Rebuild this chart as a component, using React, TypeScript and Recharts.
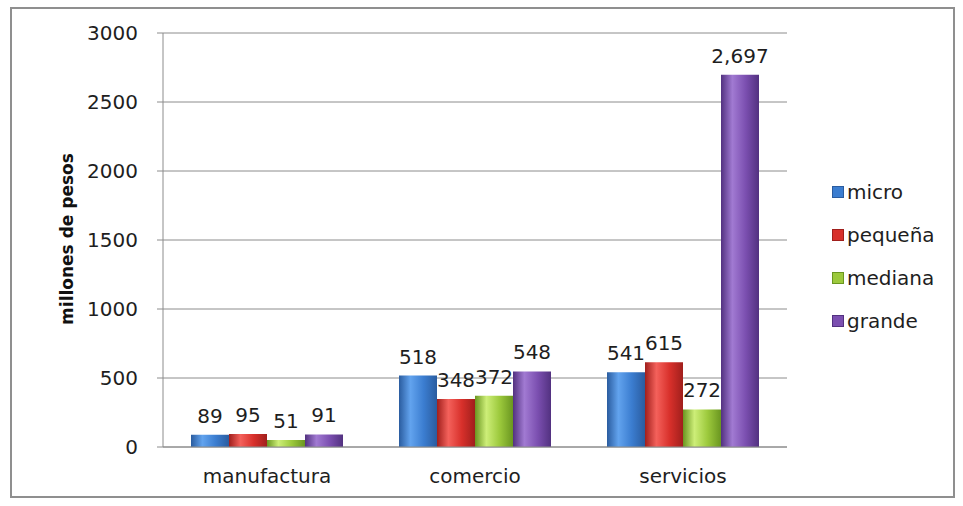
import React from 'react';
import { BarChart, Bar, XAxis, YAxis, CartesianGrid, Legend, LabelList } from 'recharts';

const SECTORS = ['manufactura', 'comercio', 'servicios'];
const MICRO = [89, 518, 541];
const PEQUENA = [95, 348, 615];
const MEDIANA = [51, 372, 272];
const GRANDE = [91, 548, 2697];
const Y_TICKS = [0, 500, 1000, 1500, 2000, 2500, 3000];

const SERIES = [
  { key: 'micro', name: 'micro', values: MICRO, dark: '#2a5c9f', light: '#62a3ee', mid: '#3b7dd0' },
  { key: 'pequena', name: 'pequeña', values: PEQUENA, dark: '#a01f1c', light: '#f4615b', mid: '#d8302b' },
  { key: 'mediana', name: 'mediana', values: MEDIANA, dark: '#6a9620', light: '#cdee78', mid: '#9cc93c' },
  { key: 'grande', name: 'grande', values: GRANDE, dark: '#523180', light: '#a17ad2', mid: '#7b4fb0' },
];

const data = SECTORS.map((name, i) => {
  const row: Record<string, string | number> = { name };
  SERIES.forEach(s => { row[s.key] = s.values[i]; });
  return row;
});

const FONT = '"DejaVu Sans", Verdana, sans-serif';
const TEXT = '#1e1e1e';

const LegendBox = () => (
  <div style={{ fontFamily: FONT, fontSize: 20, color: TEXT }}>
    {SERIES.map(s => (
      <div key={s.key} style={{ display: 'flex', alignItems: 'center', height: 43 }}>
        <span style={{ width: 10, height: 10, background: s.mid, border: `1px solid ${s.dark}`, marginRight: 3, display: 'inline-block' }} />
        <span>{s.name}</span>
      </div>
    ))}
  </div>
);

const YLabel = () => (
  <text x={67} y={239} transform="rotate(-90 67 239)" textAnchor="middle" dominantBaseline="central"
    style={{ fontFamily: FONT, fontSize: 17, fontWeight: 'bold', fill: '#111' }}>
    millones de pesos
  </text>
);

export default function App() {
  return (
    <div style={{ position: 'fixed', left: 0, top: 0, width: 963, height: 506, background: '#fff' }}>
      <div style={{ position: 'absolute', left: 10, top: 7, width: 941, height: 487, border: '2px solid #8f8f8f' }} />
      <div style={{ position: 'absolute', left: 0, top: 0 }}>
        <BarChart width={963} height={506} data={data}
          margin={{ top: 33, right: 176, bottom: 29, left: 93 }}
          barCategoryGap={28} barGap={0}>
          <defs>
            {SERIES.map(s => (
              <linearGradient key={s.key} id={`g-${s.key}`} x1="0" y1="0" x2="1" y2="0">
                <stop offset="0%" stopColor={s.dark} />
                <stop offset="30%" stopColor={s.light} />
                <stop offset="65%" stopColor={s.mid} />
                <stop offset="100%" stopColor={s.dark} />
              </linearGradient>
            ))}
          </defs>
          <CartesianGrid vertical={false} stroke="#8c8c8c" strokeWidth={1} />
          <XAxis dataKey="name" height={30} stroke="#8c8c8c" tickLine={false}
            tick={{ fontFamily: FONT, fontSize: 20, fill: TEXT }} tickMargin={16} />
          <YAxis width={70} domain={[0, 3000]} ticks={Y_TICKS} stroke="#8c8c8c" tickSize={6}
            tick={{ fontFamily: FONT, fontSize: 20, fill: TEXT }} tickMargin={19} />
          <Legend layout="horizontal" verticalAlign="middle" align="center"
            wrapperStyle={{ left: 832, top: 170, width: 125 }} content={<LegendBox />} />
          {SERIES.map(s => (
            <Bar key={s.key} dataKey={s.key} name={s.name} fill={`url(#g-${s.key})`} isAnimationActive={false}>
              <LabelList dataKey={s.key} position="top" offset={12}
                formatter={(v: number) => v.toLocaleString('en-US')}
                style={{ fontFamily: FONT, fontSize: 20, fill: TEXT }} />
            </Bar>
          ))}
          <YLabel />
        </BarChart>
      </div>
    </div>
  );
}
